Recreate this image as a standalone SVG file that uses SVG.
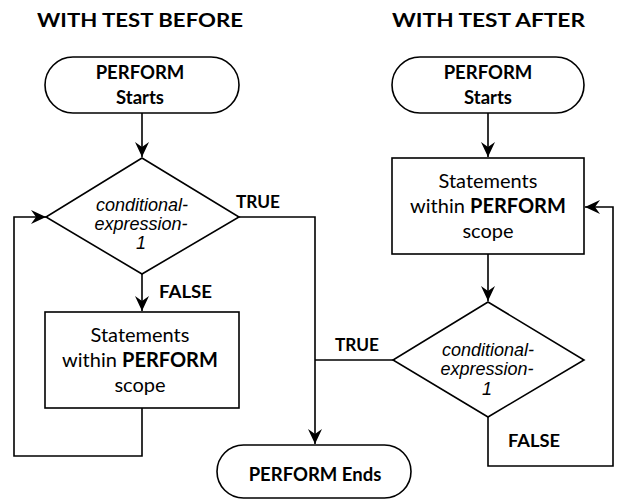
<svg xmlns="http://www.w3.org/2000/svg" width="619" height="500" viewBox="0 0 619 500">
  <style>
    .shape { fill: #ffffff; stroke: #000000; stroke-width: 1.6; }
    .wire { fill: none; stroke: #000000; stroke-width: 1.6; }
    .title { font-family: Lato, "Liberation Sans", sans-serif; font-weight: bold; font-size: 19.5px; fill: #000; }
    .term { font-family: Lato, "Liberation Sans", sans-serif; font-weight: bold; font-size: 18.5px; fill: #000; text-anchor: middle; }
    .body { font-family: Lato, "Liberation Sans", sans-serif; font-size: 20px; fill: #000; text-anchor: middle; }
    .body .b { font-weight: bold; }
    .cond { font-family: "Liberation Sans", Arial, sans-serif; font-style: italic; font-size: 18px; fill: #000; text-anchor: middle; }
    .lbl { font-family: Lato, "Liberation Sans", sans-serif; font-weight: bold; font-size: 16.5px; fill: #000; }
  </style>
  <defs>
    <marker id="arrow" viewBox="-16 -8 17 16" refX="0" refY="0" markerWidth="17" markerHeight="16" markerUnits="userSpaceOnUse" orient="auto">
      <path d="M0,0 L-15,-7 L-10,0 L-15,7 Z" fill="#000"/>
    </marker>
  </defs>

  <rect width="619" height="500" fill="#ffffff"/>

  <!-- column headings -->
  <text class="title" x="37" y="27" textLength="206" lengthAdjust="spacingAndGlyphs">WITH TEST  BEFORE</text>
  <text class="title" x="392" y="27" textLength="193" lengthAdjust="spacingAndGlyphs">WITH TEST  AFTER</text>

  <!-- connectors -->
  <g id="connectors">
    <!-- test before -->
    <path class="wire" d="M142,113 V157" marker-end="url(#arrow)"/>
    <path class="wire" d="M142,274 V311" marker-end="url(#arrow)"/>
    <path class="wire" d="M142,408 V456 H14 V217 H46" marker-end="url(#arrow)"/>
    <path class="wire" d="M239,217 H315 V444" marker-end="url(#arrow)"/>
    <!-- test after -->
    <path class="wire" d="M488,113 V157" marker-end="url(#arrow)"/>
    <path class="wire" d="M488,254 V301" marker-end="url(#arrow)"/>
    <path class="wire" d="M393,360 H315"/>
    <path class="wire" d="M488,417 V466 H613 V207 H585" marker-end="url(#arrow)"/>
    <text class="lbl" x="236" y="208" textLength="44" lengthAdjust="spacingAndGlyphs">TRUE</text>
    <text class="lbl" x="159" y="298" textLength="53" lengthAdjust="spacingAndGlyphs">FALSE</text>
    <text class="lbl" x="335" y="351" textLength="44" lengthAdjust="spacingAndGlyphs">TRUE</text>
    <text class="lbl" x="508" y="447" textLength="52" lengthAdjust="spacingAndGlyphs">FALSE</text>
  </g>

  <!-- WITH TEST BEFORE -->
  <g id="before-start">
    <rect class="shape" x="45" y="57" width="194" height="56" rx="28" ry="28"/>
    <text class="term" x="140" y="79">PERFORM</text>
    <text class="term" x="140" y="104">Starts</text>
  </g>
  <g id="before-test">
    <polygon class="shape" points="142,158 239,217 142,274 46,217"/>
    <text class="cond" x="142" y="211">conditional-</text>
    <text class="cond" x="141" y="230">expression-</text>
    <text class="cond" x="141" y="249">1</text>
  </g>
  <g id="before-body">
    <rect class="shape" x="45" y="312" width="194" height="96"/>
    <text class="body" x="140" y="342">Statements</text>
    <text class="body" x="140" y="367">within <tspan class="b">PERFORM</tspan></text>
    <text class="body" x="140" y="392">scope</text>
  </g>

  <!-- WITH TEST AFTER -->
  <g id="after-start">
    <rect class="shape" x="392" y="57" width="192" height="56" rx="28" ry="28"/>
    <text class="term" x="488" y="79">PERFORM</text>
    <text class="term" x="488" y="104">Starts</text>
  </g>
  <g id="after-body">
    <rect class="shape" x="392" y="158" width="192" height="96"/>
    <text class="body" x="488" y="188">Statements</text>
    <text class="body" x="488" y="213">within <tspan class="b">PERFORM</tspan></text>
    <text class="body" x="488" y="238">scope</text>
  </g>
  <g id="after-test">
    <polygon class="shape" points="488,302 584,360 488,417 393,360"/>
    <text class="cond" x="488" y="356">conditional-</text>
    <text class="cond" x="487" y="375">expression-</text>
    <text class="cond" x="487" y="395">1</text>
  </g>

  <!-- shared end -->
  <g id="perform-ends">
    <rect class="shape" x="217" y="445" width="194" height="53" rx="26.5" ry="26.5"/>
    <text class="term" x="315" y="481">PERFORM Ends</text>
  </g>
</svg>
